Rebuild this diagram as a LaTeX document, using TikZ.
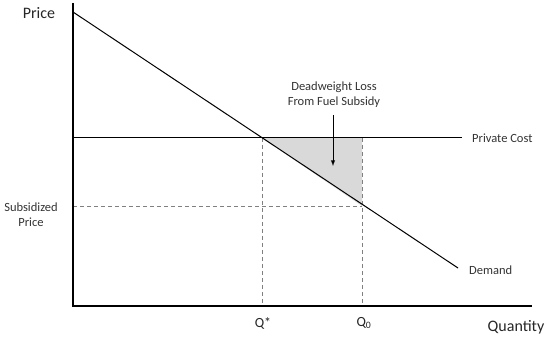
\documentclass[tikz,border=0pt]{standalone}
\usepackage{fontspec}
\setmainfont{Carlito}
\begin{document}
\begin{tikzpicture}[x=1pt,y=-1pt,
  axis/.style={line width=1.1pt,black},
  curve/.style={line width=1pt,black},
  guide/.style={gray,line width=0.8pt,dash pattern=on 4pt off 3pt},
  lbl/.style={font=\fontsize{12.5}{15}\selectfont,text=black!80,inner sep=0pt},
  qlbl/.style={font=\fontsize{14}{16}\selectfont,text=black!85,inner sep=0pt},
  biglbl/.style={font=\fontsize{16}{18}\selectfont,text=black!85,inner sep=0pt}]
\useasboundingbox (0,0) rectangle (550,337);
\coordinate (O) at (73,306);
\coordinate (Ytop) at (73,3);
\coordinate (Xend) at (532,306);
\coordinate (Dstart) at (73,12);
\coordinate (Dend) at (458,268);
\coordinate (Pstart) at (73,138);
\coordinate (Pend) at (462,138);
\coordinate (E) at (262,138);
\coordinate (Qs) at (262,306);
\coordinate (F) at (362,138);
\coordinate (G) at (362,206);
\coordinate (Q0) at (362,306);
\coordinate (S) at (73,206);
\fill[gray!30] (E) -- (F) -- (G) -- cycle;
\draw[guide] (E) -- (Qs);
\draw[guide] (F) -- (Q0);
\draw[guide] (S) -- (G);
\draw[curve] (Pstart) -- (Pend);
\draw[curve] (Dstart) -- (Dend);
\draw[axis] (Ytop) -- (O) -- (Xend);
\node[biglbl] (price) at (39,13) {Price};
\node[biglbl] (qty) at (516,327) {Quantity};
\node[lbl,align=center] (sub) at (31,215) {Subsidized\\Price};
\node[lbl,anchor=west] (pc) at (472,138) {Private Cost};
\node[lbl,anchor=west] (dem) at (469,270) {Demand};
\node[lbl,align=center] (dwl) at (334,95) {Deadweight Loss\\From Fuel Subsidy};
\node[qlbl] (qstar) at (263,323) {Q*};
\node[qlbl] (qzero) at (364,323) {Q\textsubscript{0}};
\coordinate (arrTop) at (333,115);
\coordinate (arrEnd) at (333,166);
\draw[-latex,line width=0.9pt] (arrTop) -- (arrEnd);
\end{tikzpicture}
\end{document}
